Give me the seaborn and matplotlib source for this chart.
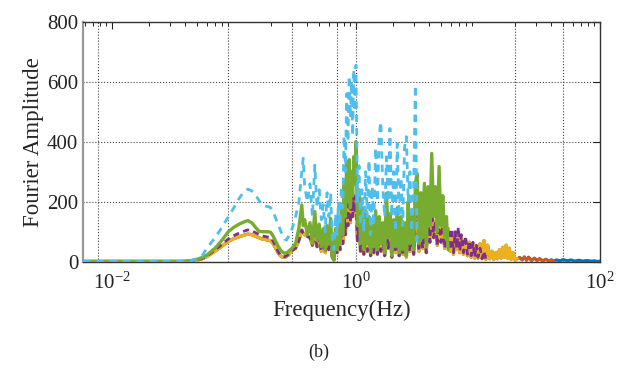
import numpy as np
import pandas as pd
import matplotlib
matplotlib.use("Agg")
import matplotlib.pyplot as plt
import matplotlib.ticker as mticker
import seaborn as sns

# ==========================
# Data
# ==========================

# smooth low-frequency part, shared frequency grid (Hz)
freq_smooth = [0.0058, 0.01, 0.02, 0.03, 0.035, 0.04, 0.045, 0.05, 0.055, 0.06,
               0.07, 0.08, 0.09, 0.10, 0.11, 0.12, 0.13, 0.14, 0.15, 0.16,
               0.17, 0.18, 0.19, 0.20, 0.21, 0.22, 0.23, 0.24, 0.25, 0.26,
               0.27, 0.28, 0.29]
base_smooth = [1, 1, 1, 1, 1, 1, 2, 5, 10, 17,
               35, 52, 68, 77, 83, 88, 92, 90, 85, 80,
               76, 74, 72, 70, 60, 45, 30, 20, 15, 14,
               18, 22, 30]
purple_smooth = [1, 1, 1, 1, 1, 1, 2, 5, 11, 19,
                 39, 58, 76, 87, 95, 101, 106, 103, 97, 91,
                 86, 84, 82, 80, 68, 51, 34, 23, 17, 16,
                 20, 25, 33]
green_smooth = [1, 1, 1, 1, 1, 2, 4, 8, 14, 22,
                45, 72, 100, 115, 125, 132, 137, 130, 115, 102,
                100, 100, 100, 98, 85, 68, 52, 40, 32, 28,
                30, 34, 40]
cyan_smooth = [1, 1, 1, 1, 1, 2, 4, 10, 20, 45,
               80, 115, 150, 180, 210, 232, 242, 236, 223, 205,
               190, 185, 184, 180, 165, 145, 125, 106, 88, 75,
               72, 85, 100]

# dense spiky part
freq_dense = [0.30, 0.32, 0.34, 0.36, 0.37, 0.38, 0.40, 0.42, 0.44, 0.46,
              0.48, 0.50, 0.52, 0.54, 0.56, 0.58, 0.60, 0.62, 0.64, 0.66,
              0.68, 0.70, 0.72, 0.74, 0.76, 0.78, 0.80, 0.82, 0.84, 0.86,
              0.88, 0.90, 0.92, 0.94, 0.96, 0.98, 1.00, 1.03, 1.06, 1.09,
              1.12, 1.16, 1.20, 1.24, 1.28, 1.32, 1.36, 1.40, 1.45, 1.50,
              1.55, 1.60, 1.66, 1.72, 1.78, 1.84, 1.90, 1.97, 2.04, 2.11,
              2.18, 2.26, 2.34, 2.42, 2.50, 2.59, 2.68, 2.77, 2.87, 2.97,
              3.07, 3.17, 3.28, 3.40, 3.52, 3.64, 3.77, 3.90, 4.04, 4.18,
              4.33, 4.48, 4.64, 4.80, 4.97, 5.15, 5.33, 5.52, 5.70]
base_dense = [38, 45, 70, 105, 95, 90, 85, 80, 55, 95,
              50, 80, 35, 70, 30, 75, 40, 85, 15, 5,
              65, 30, 85, 40, 100, 60, 150, 90, 190, 120,
              240, 130, 250, 150, 220, 170, 190, 70, 140, 35,
              100, 25, 95, 35, 85, 20, 70, 30, 100, 25,
              85, 35, 75, 20, 120, 45, 90, 15, 80, 30,
              100, 20, 85, 25, 75, 15, 110, 35, 95, 25,
              140, 160, 35, 125, 45, 140, 30, 135, 65, 190,
              80, 135, 55, 170, 65, 120, 45, 85, 110]
green_dense = [45, 60, 110, 189, 120, 140, 90, 130, 60, 167,
               70, 125, 50, 110, 40, 120, 60, 144, 20, 5,
               110, 40, 150, 60, 180, 90, 270, 150, 330, 200,
               340, 180, 300, 220, 350, 260, 400, 120, 240, 60,
               180, 40, 170, 60, 150, 30, 120, 50, 170, 40,
               150, 60, 130, 30, 228, 80, 160, 20, 140, 50,
               180, 30, 150, 40, 130, 20, 200, 60, 170, 40,
               260, 294, 60, 230, 80, 261, 50, 250, 120, 361,
               150, 250, 100, 317, 120, 220, 80, 150, 40]
cyan_dense = [110, 150, 195, 300, 345, 250, 200, 260, 150, 322,
              180, 240, 140, 190, 100, 230, 150, 228, 80, 40,
              160, 90, 200, 120, 250, 180, 420, 300, 560, 400,
              620, 480, 600, 420, 640, 500, 655, 200, 320, 120,
              240, 100, 300, 150, 339, 90, 250, 120, 380, 200,
              420, 467, 250, 150, 350, 200, 444, 150, 300, 100,
              394, 150, 280, 120, 380, 417, 200, 300, 100, 250,
              589, 60]

# high-frequency tails
freq_tail1 = [5.9, 6.1, 6.3, 6.5, 6.7, 6.9, 7.1, 7.3, 7.6, 7.9, 8.2,
              8.5, 8.8, 9.1, 9.4, 9.7, 10.0, 10.4, 10.8, 11.2, 11.6, 12.0]
purple_tail1 = [40, 110, 30, 100, 45, 115, 35, 90, 30, 85, 25,
                70, 20, 65, 15, 55, 15, 45, 10, 35, 8, 20]
yellow_tail1 = [35, 95, 25, 85, 40, 100, 30, 80, 25, 75, 20,
                65, 15, 60, 12, 50, 12, 60, 10, 70, 8, 55]
freq_tail2 = [12.5, 13.0, 13.5, 14.0, 14.5, 15.0, 15.5, 16.0,
              16.5, 17.0, 17.5, 18.0, 18.7, 19.4, 20.2, 21.0]
yellow_tail2 = [10, 35, 8, 30, 10, 40, 12, 48, 15, 55, 12, 45, 8, 30, 5, 10]
freq_tail3 = [22, 23, 24, 25, 26, 27.5, 29, 30.5, 32, 34, 36, 38, 40, 42]
orange_tail3 = [14, 6, 16, 5, 15, 4, 12, 4, 10, 3, 8, 3, 6, 2]
freq_tail4 = [44, 47, 50, 54, 58, 62, 67, 72, 78, 84, 90, 95, 100]
blue_tail4 = [6, 3, 7, 3, 6, 2, 5, 2, 4, 2, 3, 1, 2]

# ==========================
# Build series
# ==========================

f_green = freq_smooth + freq_dense
f_purple = f_green + freq_tail1
f_yellow = f_purple + freq_tail2
f_orange = f_yellow + freq_tail3
f_blue = f_orange + freq_tail4
f_cyan = freq_smooth + freq_dense[:len(cyan_dense)]

a_yellow = base_smooth + base_dense + yellow_tail1 + yellow_tail2
a_orange = a_yellow + orange_tail3
a_blue = a_orange + blue_tail4
a_purple = purple_smooth + base_dense + purple_tail1
a_green = green_smooth + green_dense
a_cyan = cyan_smooth + cyan_dense

series = [
    (f_blue, a_blue, "#0072BD", "-", 2.2),
    (f_orange, a_orange, "#D95319", "-", 2.0),
    (f_yellow, a_yellow, "#EDB120", "-", 2.4),
    (f_purple, a_purple, "#7E2F8E", (0, (2.2, 1.6)), 2.0),
    (f_green, a_green, "#77AC30", "-", 2.4),
    (f_cyan, a_cyan, "#4DBEEE", (0, (2.6, 2.2)), 2.0),
]

# ==========================
# Plot
# ==========================

sns.set_style("white")
plt.rcParams["font.family"] = ["Liberation Serif", "DejaVu Serif"]
plt.rcParams["mathtext.fontset"] = "custom"
plt.rcParams["mathtext.rm"] = "Liberation Serif"

fig = plt.figure(figsize=(6.27, 3.69), dpi=100)
ax = fig.add_axes([83 / 627, 1 - 261.7 / 369, 517 / 627, 240 / 369])

for f, a, c, ls, lw in series:
    df = pd.DataFrame({"Frequency": f, "Amplitude": a})
    sns.lineplot(data=df, x="Frequency", y="Amplitude", ax=ax, color=c,
                 linestyle=ls, linewidth=lw, estimator=None, sort=False,
                 zorder=3)

ax.set_xscale("log")
ax.set_xlim(0.0058, 100)
ax.set_ylim(0, 800)
ax.set_xticks([0.01, 1, 100])
ax.xaxis.set_minor_formatter(mticker.NullFormatter())
ax.set_yticks([0, 200, 400, 600, 800])

# grid
ax.yaxis.grid(True, linestyle=":", color="#444444", linewidth=0.8)
for gx in [0.0077, 0.09, 0.3, 0.7, 1.0, 20, 50]:
    ax.axvline(gx, linestyle=":", color="#444444", linewidth=0.8, zorder=1)

ax.tick_params(which="both", direction="in", top=True, right=True,
               labelsize=15, colors="#222222")
ax.tick_params(which="major", length=5, width=0.8)
ax.tick_params(which="minor", length=3, width=0.7)
ax.tick_params(axis="x", which="major", pad=8)
for s in ax.spines.values():
    s.set_color("#333333")
    s.set_linewidth(1.0)
ax.spines["left"].set_color("#999999")
ax.spines["left"].set_linewidth(1.6)

ax.set_xlabel("Frequency(Hz)", fontsize=16.5, labelpad=4)
ax.set_ylabel("Fourier Amplitude", fontsize=16.5, labelpad=2)

fig.text(0.509, 0.046, "(b)", ha="center", va="center", fontsize=13)

fig.savefig("out.png", dpi=100)
